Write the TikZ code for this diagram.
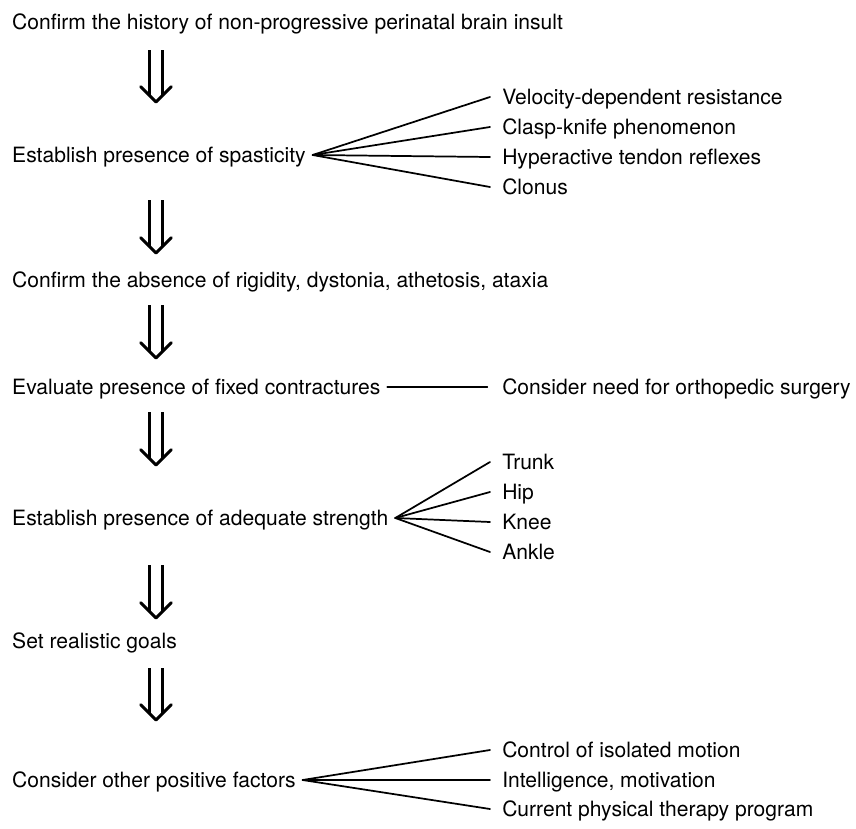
\documentclass[tikz,border=0pt]{standalone}
\usepackage{fontspec}
\setmainfont{TeX Gyre Heros}
\usepackage{tikz}

% hollow double arrow between two stages
\newcommand{\thendown}[2]{%
    \draw[shaft] ([xshift=-5pt]#1) -- ([xshift=-5pt,yshift=5pt]#2);
    \draw[shaft] ([xshift=5pt]#1) -- ([xshift=5pt,yshift=5pt]#2);
    \draw[barb] ([xshift=-11.5pt,yshift=11.5pt]#2) -- (#2) -- ([xshift=11.5pt,yshift=11.5pt]#2);
}

\begin{document}
\begin{tikzpicture}[
                x=0.75pt,
                y=-0.75pt,
                line cap=round,
                line join=round,
                every node/.style={font=\fontsize{15.8}{19}\selectfont, inner ysep=0pt, text height=11.3pt, text depth=0pt},
                stage/.style={anchor=west, inner xsep=5pt},
                detail/.style={anchor=west, inner xsep=9pt},
                branch/.style={line width=1.3pt},
                shaft/.style={line width=2.2pt, line cap=butt},
                barb/.style={line width=2.2pt}
            ]
            \useasboundingbox (0,0) rectangle (856,828);

            % Stages down the left side
            \node[stage] (history) at (5.3,22) {Confirm the history of non-progressive perinatal brain insult};
            \node[stage] (spastic) at (5.3,155) {Establish presence of spasticity};
            \node[stage] (absence) at (5.3,280) {Confirm the absence of rigidity, dystonia, athetosis, ataxia};
            \node[stage] (fixed) at (5.3,387) {Evaluate presence of fixed contractures};
            \node[stage] (strength) at (5.3,518) {Establish presence of adequate strength};
            \node[stage] (goals) at (5.3,641) {Set realistic goals};
            \node[stage] (factors) at (5.3,780) {Consider other positive factors};

            % Double arrows between stages
            \coordinate (a1) at (156,50);  \coordinate (b1) at (156,102);
            \coordinate (a2) at (156,200); \coordinate (b2) at (156,253);
            \coordinate (a3) at (156,305); \coordinate (b3) at (156,358);
            \coordinate (a4) at (156,412); \coordinate (b4) at (156,465);
            \coordinate (a5) at (156,565); \coordinate (b5) at (156,618);
            \coordinate (a6) at (156,668); \coordinate (b6) at (156,720);
            \thendown{a1}{b1}
            \thendown{a2}{b2}
            \thendown{a3}{b3}
            \thendown{a4}{b4}
            \thendown{a5}{b5}
            \thendown{a6}{b6}

            % Signs of spasticity
            \node[detail] (velocity) at (490,97) {Velocity-dependent resistance};
            \node[detail] (clasp) at (490,127) {Clasp-knife phenomenon};
            \node[detail] (tendon) at (490,157) {Hyperactive tendon reflexes};
            \node[detail] (clonus) at (490,187) {Clonus};
            \foreach \n in {velocity, clasp, tendon, clonus}
                \draw[branch] (spastic.east) -- (\n.west);

            % Contractures
            \node[detail] (surgery) at (490,387) {Consider need for orthopedic surgery};
            \draw[branch, shorten >=2pt] (fixed.east) -- (surgery.west);

            % Muscle groups
            \node[detail] (trunk) at (490,462) {Trunk};
            \node[detail] (hip) at (490,492) {Hip};
            \node[detail] (knee) at (490,522) {Knee};
            \node[detail] (ankle) at (490,552) {Ankle};
            \foreach \n in {trunk, hip, knee, ankle}
                \draw[branch] (strength.east) -- (\n.west);

            % Other positive factors
            \node[detail] (control) at (490,750) {Control of isolated motion};
            \node[detail] (motivation) at (490,780) {Intelligence, motivation};
            \node[detail] (therapy) at (490,809) {Current physical therapy program};
            \foreach \n in {control, motivation, therapy}
                \draw[branch] (factors.east) -- (\n.west);
        \end{tikzpicture}
\end{document}
